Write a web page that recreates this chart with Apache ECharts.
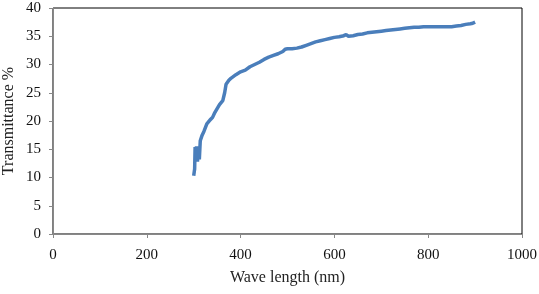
<!DOCTYPE html>
<html>
<head>
<meta charset="utf-8">
<script src="https://cdn.jsdelivr.net/npm/echarts@6/dist/echarts.min.js"></script>
<style>
  html, body { margin: 0; padding: 0; background: #fff; }
  #main { width: 539px; height: 294px; }
</style>
</head>
<body>
<div id="main"></div>
<script>
// wavelength (nm) and transmittance (%)
var wavelength = [300, 302, 303, 305, 306, 308, 310, 312, 314, 318, 322, 328, 335, 340, 345, 350, 355, 362, 366, 369,
  375, 380, 390, 400, 410, 420, 430, 440, 450, 460, 470, 480, 490, 495, 500, 510, 520, 530, 540, 550,
  560, 570, 580, 590, 600, 610, 620, 625, 630, 640, 650, 660, 670, 680, 690, 700, 710, 720, 730, 740,
  750, 760, 770, 780, 790, 800, 810, 820, 830, 840, 850, 860, 870, 880, 890, 895, 900]
var transmittance = [10.3, 11.5, 15.4, 13.0, 15.5, 12.8, 15.0, 13.2, 16.5, 17.5, 18.2, 19.5, 20.2, 20.6, 21.5, 22.2, 22.9, 23.6, 25.0, 26.5,
  27.2, 27.6, 28.2, 28.7, 29.0, 29.6, 30.0, 30.4, 30.9, 31.3, 31.6, 31.9, 32.3, 32.7, 32.8, 32.8, 32.9, 33.1, 33.4, 33.7,
  34.0, 34.2, 34.4, 34.6, 34.8, 34.9, 35.1, 35.3, 35.0, 35.1, 35.3, 35.4, 35.6, 35.7, 35.8, 35.9, 36.0, 36.1, 36.2, 36.3,
  36.4, 36.5, 36.6, 36.6, 36.7, 36.7, 36.7, 36.7, 36.7, 36.7, 36.7, 36.8, 36.9, 37.1, 37.2, 37.3, 37.5]

var points = wavelength.map(function (w, i) { return [w, transmittance[i]] })

var chart = echarts.init(document.getElementById('main'))
var font = 'Liberation Serif'
chart.setOption({
  animation: false,
  grid: {
    left: 53, right: 17, top: 8, bottom: 60,
    containLabel: false,
    outerBoundsMode: 'none',
    show: true, borderColor: '#000', borderWidth: 1
  },
  xAxis: {
    type: 'value',
    min: 0, max: 1000, interval: 200,
    name: 'Wave length (nm)',
    nameLocation: 'middle',
    nameGap: 36,
    nameMoveOverlap: false,
    nameTextStyle: { fontFamily: font, fontSize: 16, color: '#222' },
    axisLine: { show: true, lineStyle: { color: '#888', width: 1 } },
    axisTick: { show: true, inside: false, length: 4, lineStyle: { color: '#888' } },
    axisLabel: {
      fontFamily: font, fontSize: 15, color: '#111', margin: 14,
      formatter: function (v) { return String(v) }
    },
    splitLine: { show: false }
  },
  yAxis: {
    type: 'value',
    min: 0, max: 40, interval: 5,
    name: 'Transmittance %',
    nameLocation: 'middle',
    nameGap: 36,
    nameMoveOverlap: false,
    nameTextStyle: { fontFamily: font, fontSize: 16, color: '#222' },
    axisLine: { show: true, lineStyle: { color: '#888', width: 1 } },
    axisTick: { show: true, inside: false, length: 4, lineStyle: { color: '#888' } },
    axisLabel: { fontFamily: font, fontSize: 15, color: '#111', margin: 12 },
    splitLine: { show: false }
  },
  series: [{
    type: 'line',
    data: points,
    showSymbol: false,
    lineStyle: { color: '#4a7ebb', width: 3.5 },
    itemStyle: { color: '#4a7ebb' }
  }]
})
</script>
</body>
</html>
